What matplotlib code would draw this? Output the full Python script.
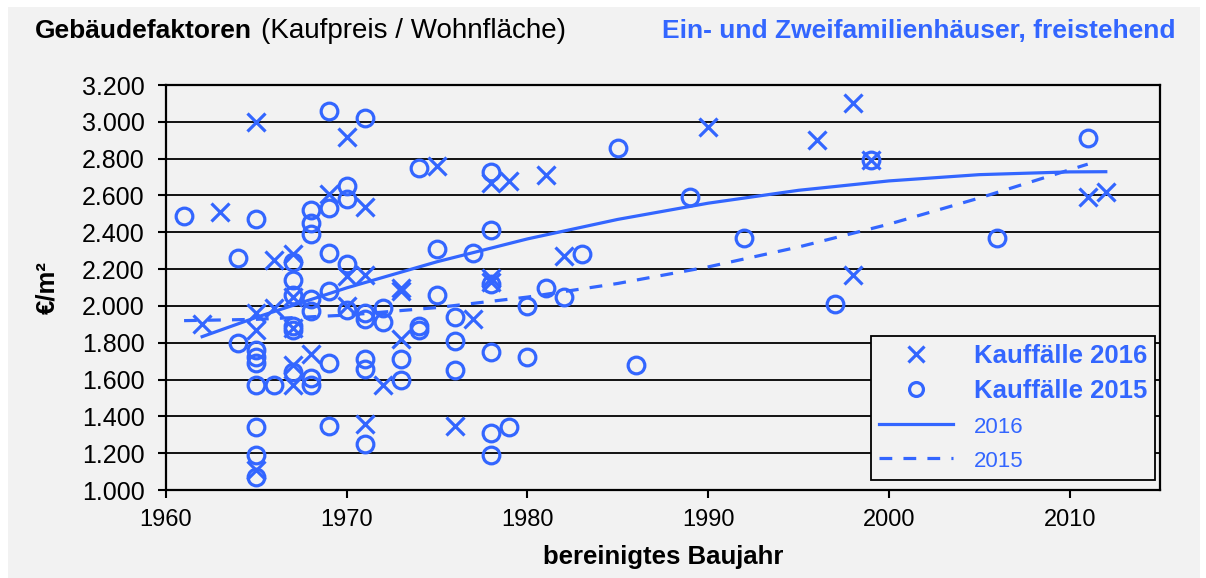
import matplotlib
matplotlib.use("Agg")
import matplotlib.pyplot as plt
import matplotlib.patches as mpatches
from matplotlib.lines import Line2D
from matplotlib.ticker import FuncFormatter, MultipleLocator

plt.rcParams['font.family'] = ['Liberation Sans', 'DejaVu Sans']

blue = '#3366FF'
bg = '#F2F2F2'

# Kauffälle 2016: bereinigtes Baujahr / Gebäudefaktor (EUR/m²)
jahr_2016 = [1962, 1963, 1965, 1965, 1965, 1965, 1966, 1966, 1967, 1967,
             1967, 1967, 1968, 1967, 1969, 1970, 1970, 1970, 1971, 1971,
             1971, 1972, 1973, 1973, 1973, 1975, 1976, 1977, 1978, 1978,
             1978, 1979, 1981, 1982, 1990, 1996, 1998, 1998, 1999, 2011, 2012]
wert_2016 = [1900, 2510, 3000, 1960, 1870, 1110, 2250, 1990, 2280, 2050,
             1880, 1570, 1740, 1680, 2610, 2920, 2160, 2000, 2540, 2170,
             1360, 1570, 2100, 2080, 1820, 2760, 1350, 1930, 2670, 2150,
             2130, 2680, 2710, 2270, 2970, 2900, 3100, 2170, 2790, 2590, 2620]

# Kauffälle 2015
jahr_2015 = [1961, 1964, 1964, 1965, 1965, 1965, 1965, 1965, 1965, 1965,
             1965, 1966, 1967, 1967, 1967, 1967, 1967, 1967, 1968, 1968,
             1968, 1968, 1968, 1968, 1968, 1969, 1969, 1969, 1969, 1969,
             1969, 1970, 1970, 1970, 1970, 1971, 1971, 1971, 1971, 1971,
             1971, 1972, 1972, 1973, 1973, 1974, 1974, 1974, 1975, 1975,
             1976, 1976, 1976, 1977, 1978, 1978, 1978, 1978, 1978, 1978,
             1979, 1980, 1980, 1981, 1982, 1983, 1985, 1986, 1989, 1992,
             1997, 1999, 2006, 2011]
wert_2015 = [2490, 2260, 1800, 2470, 1760, 1720, 1690, 1570, 1340, 1190,
             1070, 1570, 2240, 2140, 2060, 1890, 1870, 1640, 2520, 2450,
             2390, 2040, 1970, 1610, 1570, 3060, 2530, 2290, 2080, 1690,
             1350, 2650, 2580, 2230, 1980, 3020, 1960, 1930, 1710, 1660,
             1250, 1990, 1910, 1710, 1600, 2750, 1890, 1870, 2310, 2060,
             1940, 1810, 1650, 2290, 2730, 2410, 2120, 1750, 1310, 1190,
             1340, 2000, 1720, 2100, 2050, 2280, 2860, 1680, 2590, 2370,
             2010, 2790, 2370, 2910]

# Trendlinien
trend_jahr_2016 = [1962, 1965, 1970, 1975, 1980, 1985, 1990, 1995, 2000, 2005, 2010, 2012]
trend_wert_2016 = [1833, 1938, 2098, 2240, 2364, 2470, 2558, 2628, 2679, 2713, 2728, 2729]
trend_jahr_2015 = [1961, 1965, 1970, 1975, 1980, 1985, 1990, 1995, 2000, 2005, 2011]
trend_wert_2015 = [1920, 1927, 1950, 1991, 2048, 2122, 2212, 2320, 2444, 2586, 2770]

W, H = 1206, 578
fig = plt.figure(figsize=(W / 100, H / 100), dpi=100)
fig.patch.set_facecolor('white')
fig.patches.append(mpatches.Rectangle((8 / W, 0), 1192 / W, 1 - 7 / H,
                                      transform=fig.transFigure,
                                      facecolor=bg, edgecolor='none', zorder=-10))

ax = fig.add_axes([166 / W, 1 - 490 / H, (1160 - 166) / W, (490 - 85) / H])
ax.set_facecolor(bg)

ax.plot(jahr_2016, wert_2016, linestyle='none', marker='x', ms=13.5, mew=2.3,
        color=blue, zorder=3)
ax.plot(jahr_2015, wert_2015, linestyle='none', marker='o', ms=12, mew=2.3,
        mfc='none', mec=blue, zorder=3)
ax.plot(trend_jahr_2016, trend_wert_2016, color=blue, lw=2.3, zorder=4)
ax.plot(trend_jahr_2015, trend_wert_2015, color=blue, lw=2.3,
        linestyle=(0, (4, 3.5)), zorder=4)

ax.set_xlim(1960, 2015)
ax.set_ylim(1000, 3200)
ax.yaxis.set_major_locator(MultipleLocator(200))
ax.xaxis.set_major_locator(MultipleLocator(10))
ax.yaxis.set_major_formatter(FuncFormatter(lambda v, p: f"{int(v):,}".replace(",", ".")))
ax.grid(axis='y', color='black', lw=1.3, zorder=1)
ax.set_axisbelow(True)
for s in ax.spines.values():
    s.set_color('black')
    s.set_linewidth(1.6)
ax.tick_params(axis='both', direction='out', length=5.5, width=1.5,
               labelsize=17, colors='black')
ax.tick_params(axis='y', pad=10, labelsize=18)
ax.tick_params(axis='x', pad=8)

ax.set_xlabel('bereinigtes Baujahr', fontsize=18.5, fontweight='bold', labelpad=10)
ax.set_ylabel('€/m²', fontsize=18.5, fontweight='bold', labelpad=16)

handles = [
    Line2D([], [], linestyle='none', marker='x', ms=11, mew=2.3, color=blue),
    Line2D([], [], linestyle='none', marker='o', ms=10, mew=2.3, mfc='none', mec=blue),
    Line2D([], [], color=blue, lw=2.3),
    Line2D([], [], color=blue, lw=2.3, linestyle=(0, (4, 3.5))),
]
labels = ['Kauffälle 2016', 'Kauffälle 2015', '2016', '2015']
leg = ax.legend(handles, labels, loc='lower right', bbox_to_anchor=(0.995, 0.025),
                fontsize=18.5, frameon=True, fancybox=False, framealpha=1,
                facecolor=bg, edgecolor='black', handlelength=2.9,
                handletextpad=0.8, labelspacing=0.45, borderpad=0.3,
                borderaxespad=0)
leg.get_frame().set_linewidth(1.3)
leg.set_zorder(5)
for i, t in enumerate(leg.get_texts()):
    t.set_color(blue)
    if i < 2:
        t.set_fontweight('bold')
    else:
        t.set_fontsize(16)

fig.text(35 / W, 1 - 31 / H, 'Gebäudefaktoren', fontsize=19, fontweight='bold',
         color='black', va='center', ha='left')
fig.text(261 / W, 1 - 31 / H, '(Kaufpreis / Wohnfläche)', fontsize=20,
         color='black', va='center', ha='left')
fig.text(1175 / W, 1 - 31 / H, 'Ein- und Zweifamilienhäuser, freistehend',
         fontsize=19, fontweight='bold', color=blue, va='center', ha='right')

fig.savefig('out.png', dpi=100, facecolor=fig.get_facecolor())
